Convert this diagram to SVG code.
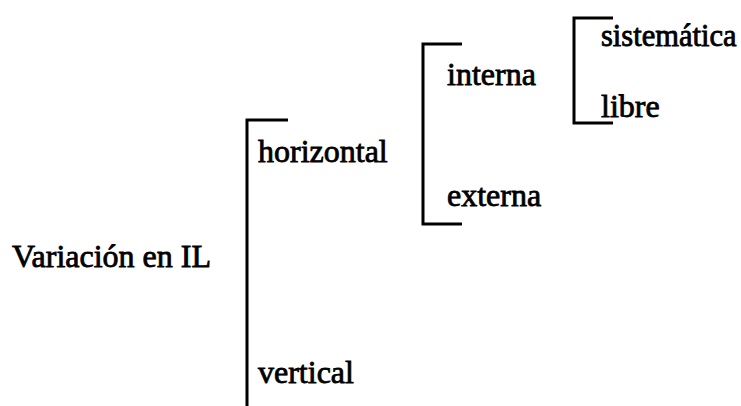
<svg xmlns="http://www.w3.org/2000/svg" width="741" height="406" viewBox="0 0 741 406">
<style>
text{font-family:"Liberation Serif","Times New Roman",serif;font-size:32px;fill:#000;stroke:#000;stroke-width:0.8px}
.br{fill:none;stroke:#000;stroke-width:3}
</style>
<rect width="741" height="406" fill="#fff"/>
<g id="connectors">
<path class="br" d="M288,120 H247 V406"/>
<path class="br" d="M462,44 H423 V224 H462"/>
<path class="br" d="M613,18 H574 V123 H613"/>
</g>
<g id="root"><text x="12" y="267">Variación en IL</text></g>
<g id="horizontal"><text x="258" y="162">horizontal</text></g>
<g id="vertical"><text x="258" y="383">vertical</text></g>
<g id="interna"><text x="447" y="85">interna</text></g>
<g id="externa"><text x="447" y="206">externa</text></g>
<g id="sistematica"><text x="601" y="46" style="font-size:30.5px">sistemática</text></g>
<g id="libre"><text x="601" y="117">libre</text></g>
</svg>
